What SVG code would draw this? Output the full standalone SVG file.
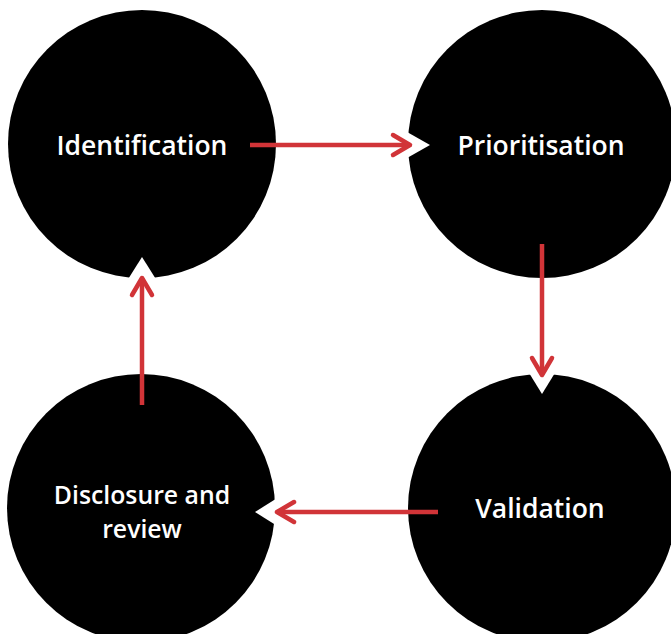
<svg xmlns="http://www.w3.org/2000/svg" width="671" height="634" viewBox="0 0 671 634">
<style>
.node{fill:#000}
.notch{fill:#fff}
.lbl{font-family:"Open Sans","Noto Sans","Liberation Sans",sans-serif;font-weight:600;font-size:26.5px;fill:#fff;text-anchor:middle}
.lbl2{font-size:24.8px}
.conn{stroke:#d13438;stroke-width:4.5;fill:none}
</style>
<defs>
<marker id="ah" markerUnits="userSpaceOnUse" markerWidth="40" markerHeight="40" viewBox="-30 -20 40 40" refX="0" refY="0" orient="auto" overflow="visible">
<path d="M-17,-10 L0,0 L-17,10" fill="none" stroke="#d13438" stroke-width="4.5" stroke-linecap="round" stroke-linejoin="round"/>
</marker>
</defs>
<rect width="671" height="634" fill="#fff"/>
<g id="identification">
<circle class="node" cx="142" cy="144" r="134"/>
<text class="lbl" x="142" y="155">Identification</text>
</g>
<g id="prioritisation">
<circle class="node" cx="542" cy="144" r="134"/>
<text class="lbl" x="541" y="155">Prioritisation</text>
</g>
<g id="validation">
<circle class="node" cx="542" cy="508" r="134"/>
<text class="lbl" x="540" y="518">Validation</text>
</g>
<g id="disclosure">
<circle class="node" cx="141" cy="508" r="134"/>
<text class="lbl lbl2" x="142" y="504">Disclosure and</text>
<text class="lbl lbl2" x="142" y="538">review</text>
</g>
<g id="notches">
<polygon class="notch" points="400,128 430,145 400,162"/>
<polygon class="notch" points="526,368 542,394 558,368"/>
<polygon class="notch" points="282,495 255,512 282,529"/>
<polygon class="notch" points="125,284 142,257 159,284"/>
</g>
<g id="connectors">
<line class="conn" x1="250" y1="145" x2="410" y2="145" marker-end="url(#ah)"/>
<line class="conn" x1="542" y1="244" x2="542" y2="375" marker-end="url(#ah)"/>
<line class="conn" x1="438" y1="512" x2="277" y2="512" marker-end="url(#ah)"/>
<line class="conn" x1="142" y1="405" x2="142" y2="278" marker-end="url(#ah)"/>
</g>
</svg>
